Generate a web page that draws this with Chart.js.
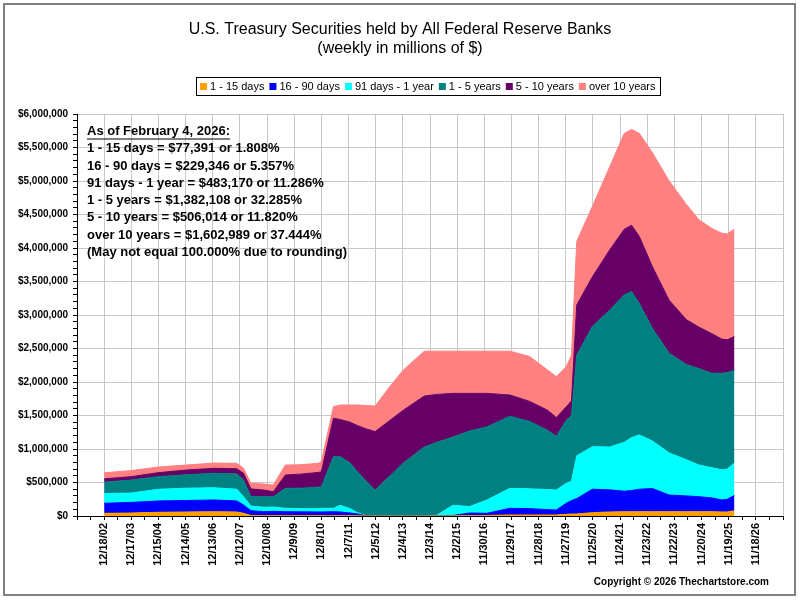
<!DOCTYPE html>
<html>
<head>
<meta charset="utf-8">
<title>U.S. Treasury Securities held by All Federal Reserve Banks</title>
<script src="https://cdn.jsdelivr.net/npm/chart.js@4.4.1/dist/chart.umd.min.js"></script>
<style>
  body { margin: 0; background: #fff; }
  #wrap { position: absolute; left: 0; top: 0; width: 800px; height: 600px; }
</style>
</head>
<body>
<div id="wrap"><canvas id="mycanvas" width="800" height="600"></canvas></div>
<script>
// week number counted from 12/18/02
var weeks = [0, 52, 103, 156, 210, 254, 267, 281, 305, 324, 347, 376, 410, 416, 439, 452, 471, 485, 502, 519,
  546, 573, 613, 637, 668, 700, 733, 777, 815, 849, 866, 885, 895, 905, 935, 968, 996, 1010, 1025, 1050,
  1082, 1115, 1139, 1164, 1183, 1193, 1207];

// millions of $
var days1to15 = [40000, 45000, 55000, 60000, 64000, 60000, 40000, 8000, 5000, 5000, 5000, 5000, 5000, 5000, 5000, 5000, 5000, 3000, 1000, 0,
  0, 0, 0, 0, 2000, 5000, 8000, 15000, 15000, 15000, 15000, 25000, 30000, 30000, 50000, 60000, 64000, 64000, 64000, 64000,
  64000, 64000, 64000, 64000, 60000, 60000, 77391];
var days16to90 = [150000, 158000, 169000, 172000, 175000, 165000, 124000, 72000, 59000, 65000, 59000, 57000, 55000, 55000, 59000, 55000, 40000, 27000, 2000, 0,
  0, 0, 0, 0, 6000, 40000, 32000, 100000, 95000, 80000, 75000, 165000, 200000, 230000, 350000, 330000, 306000, 316000, 336000, 346000,
  249000, 236000, 224000, 206000, 179000, 190000, 229346];
var days91to1y = [145000, 140000, 174000, 183000, 183000, 175000, 124000, 69000, 66000, 65000, 51000, 50000, 52000, 55000, 51000, 100000, 65000, 20000, 2000, 0,
  0, 0, 0, 10000, 152000, 95000, 199000, 298000, 295000, 300000, 298000, 298000, 290000, 640000, 634000, 640000, 730000, 790000, 810000, 710000,
  627000, 540000, 473000, 450000, 451000, 450000, 483170];
var years1to5 = [170000, 194000, 189000, 200000, 215000, 230000, 249000, 141000, 158000, 153000, 298000, 303000, 318000, 323000, 770000, 725000, 680000, 610000, 515000, 388000,
  590000, 790000, 1030000, 1090000, 1020000, 1130000, 1091000, 1077000, 1005000, 885000, 802000, 942000, 980000, 1500000, 1796000, 2040000, 2200000, 2180000, 1960000, 1680000,
  1490000, 1420000, 1439000, 1410000, 1440000, 1440000, 1382108];
var years5to10 = [50000, 50000, 59000, 70000, 75000, 75000, 100000, 115000, 100000, 75000, 199000, 210000, 220000, 223000, 575000, 555000, 610000, 690000, 780000, 872000,
  830000, 790000, 760000, 715000, 650000, 560000, 500000, 316000, 300000, 300000, 280000, 200000, 220000, 750000, 740000, 900000, 980000, 990000, 1000000, 920000,
  790000, 670000, 620000, 590000, 510000, 490000, 506014];
var over10years = [90000, 91000, 84000, 75000, 78000, 81000, 75000, 83000, 90000, 100000, 149000, 140000, 136000, 150000, 170000, 217000, 257000, 307000, 350000, 380000,
  500000, 600000, 670000, 645000, 630000, 630000, 630000, 654000, 670000, 600000, 610000, 600000, 680000, 950000, 1050000, 1240000, 1430000, 1430000, 1540000, 1700000,
  1780000, 1720000, 1600000, 1570000, 1580000, 1580000, 1602989];

var tickLabels = ['12/18/02', '12/17/03', '12/15/04', '12/14/05', '12/13/06', '12/12/07', '12/10/08', '12/9/09',
  '12/8/10', '12/7/11', '12/5/12', '12/4/13', '12/3/14', '12/2/15', '11/30/16', '11/29/17', '11/28/18',
  '11/27/19', '11/25/20', '11/24/21', '11/23/22', '11/22/23', '11/20/24', '11/19/25', '11/18/26'];

var seriesNames = ['1 - 15 days', '16 - 90 days', '91 days - 1 year', '1 - 5 years', '5 - 10 years', 'over 10 years'];
var seriesColors = ['#FFA000', '#0000FF', '#00FFFF', '#008080', '#660066', '#FF8080'];
var seriesValues = [days1to15, days16to90, days91to1y, years1to5, years5to10, over10years];

var titleLines = ['U.S. Treasury Securities held by All Federal Reserve Banks', '(weekly in millions of $)'];
var noteLines = [
  'As of February 4, 2026:',
  '1 - 15 days = $77,391 or 1.808%',
  '16 - 90 days = $229,346 or 5.357%',
  '91 days - 1 year = $483,170 or 11.286%',
  '1 - 5 years = $1,382,108 or 32.285%',
  '5 - 10 years = $506,014 or 11.820%',
  'over 10 years = $1,602,989 or 37.444%',
  '(May not equal 100.000% due to rounding)'
];
var copyright = 'Copyright \u00A9 2026 Thechartstore.com';

var FONT = "'Liberation Sans', Arial, sans-serif";
Chart.defaults.font.family = FONT;
Chart.defaults.color = '#000';

var datasets = [];
for (var i = 0; i < seriesNames.length; i++) {
  var pts = [];
  for (var j = 0; j < weeks.length; j++) {
    pts.push({ x: weeks[j], y: seriesValues[i][j] });
  }
  datasets.push({
    label: seriesNames[i],
    data: pts,
    backgroundColor: seriesColors[i],
    borderColor: seriesColors[i],
    borderWidth: 1,
    pointRadius: 0,
    tension: 0,
    fill: i === 0 ? 'origin' : '-1'
  });
}

var decorations = {
  id: 'decorations',
  beforeDraw: function(chart) {
    var ctx = chart.ctx;
    ctx.save();
    ctx.fillStyle = '#fff';
    ctx.fillRect(0, 0, chart.width, chart.height);
    ctx.restore();
  },
  afterDraw: function(chart) {
    var ctx = chart.ctx;
    ctx.save();

    // outer frame
    ctx.strokeStyle = '#808080';
    ctx.lineWidth = 2;
    ctx.strokeRect(4, 4, 791, 591);

    // title
    ctx.fillStyle = '#000';
    ctx.textAlign = 'center';
    ctx.textBaseline = 'middle';
    ctx.font = '16px ' + FONT;
    ctx.fillText(titleLines[0], 400, 30);
    ctx.fillText(titleLines[1], 400, 49);

    // legend
    ctx.font = '11px ' + FONT;
    var box = 7, gap = 3, itemGap = 5, pad = 4;
    var total = pad * 2 - itemGap;
    var widths = [];
    for (var i = 0; i < seriesNames.length; i++) {
      var w = ctx.measureText(seriesNames[i]).width;
      widths.push(w);
      total += box + gap + w + itemGap;
    }
    var lx = Math.round(428 - total / 2);
    ctx.strokeStyle = '#000';
    ctx.lineWidth = 1;
    ctx.strokeRect(lx + 0.5, 77.5, Math.round(total), 18);
    var x = lx + pad;
    ctx.textAlign = 'left';
    for (var k = 0; k < seriesNames.length; k++) {
      ctx.fillStyle = seriesColors[k];
      ctx.fillRect(x, 83, box, box);
      ctx.fillStyle = '#000';
      ctx.fillText(seriesNames[k], x + box + gap, 87);
      x += box + gap + widths[k] + itemGap;
    }

    // note block
    ctx.font = 'bold 13px ' + FONT;
    ctx.textAlign = 'left';
    for (var n = 0; n < noteLines.length; n++) {
      var y = 131.5 + n * 17.25;
      ctx.fillText(noteLines[n], 87, y);
      if (n === 0) {
        var uw = ctx.measureText(noteLines[0]).width;
        ctx.fillRect(87, y + 7, uw, 1);
      }
    }

    // copyright
    ctx.font = 'bold 10px ' + FONT;
    ctx.textAlign = 'right';
    ctx.fillText(copyright, 769, 582);
    ctx.restore();
  }
};

var ctx = document.getElementById('mycanvas');
var chart = new Chart(ctx, {
  type: 'line',
  data: { datasets: datasets },
  plugins: [decorations],
  options: {
    responsive: false,
    animation: false,
    devicePixelRatio: 1,
    layout: { padding: { top: 114, right: 17, bottom: 0, left: 0 } },
    plugins: {
      legend: { display: false },
      title: { display: false },
      tooltip: { enabled: false }
    },
    scales: {
      x: {
        type: 'linear',
        min: -52,
        max: 1300,
        afterFit: function(s) { s.height = 84; },
        border: { color: '#000', width: 1, z: 1 },
        grid: {
          color: function(c) { return c.tick && c.tick.value % 52 === 0 ? '#c8c8c8' : 'rgba(0,0,0,0)'; },
          tickColor: '#000',
          tickLength: 4
        },
        ticks: {
          stepSize: 26,
          autoSkip: false,
          minRotation: 90,
          maxRotation: 90,
          padding: 3,
          color: '#000',
          font: { size: 11, weight: 'bold' },
          callback: function(v) {
            if (v < 0 || v % 52 !== 0) return '';
            return tickLabels[v / 52] || '';
          }
        }
      },
      y: {
        stacked: true,
        min: 0,
        max: 6000000,
        afterFit: function(s) { s.width = 77; },
        border: { color: '#000', width: 1, z: 1 },
        grid: {
          color: function(c) { return c.tick && c.tick.value % 500000 === 0 ? '#c8c8c8' : 'rgba(0,0,0,0)'; },
          tickColor: '#000',
          tickLength: 4
        },
        ticks: {
          stepSize: 100000,
          autoSkip: false,
          padding: 5,
          color: '#000',
          font: { size: 10, weight: 'bold' },
          callback: function(v) {
            return v % 500000 === 0 ? '$' + v.toLocaleString('en-US') : '';
          }
        }
      }
    }
  }
});
</script>
</body>
</html>
